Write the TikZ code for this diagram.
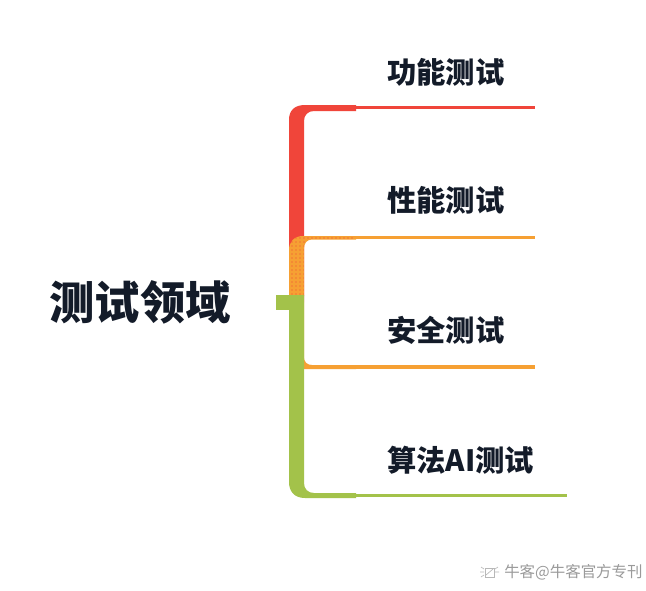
\documentclass[tikz,border=0pt]{standalone}
\usepackage{fontspec}
\newfontfamily\cjk{Noto Sans CJK SC}
\usetikzlibrary{patterns}
\definecolor{cred}{HTML}{F0453A}
\definecolor{corange}{HTML}{F6A033}
\definecolor{cgreen}{HTML}{A3C24A}
\definecolor{ctext}{HTML}{131B29}
\definecolor{cmark}{HTML}{9A9A9A}
\begin{document}
\begin{tikzpicture}[x=0.75pt,y=-0.75pt,
  rootlabel/.style={font=\cjk\bfseries\fontsize{34}{40}\selectfont,text=ctext,inner sep=0pt},
  leaflabel/.style={font=\cjk\bfseries\fontsize{22}{26}\selectfont,text=ctext,inner sep=0pt,anchor=west},
  markstyle/.style={font=\cjk\fontsize{11.6}{14}\selectfont,text=cmark,inner sep=0pt,anchor=west},
  thinline/.style={line width=2.4pt}]
\useasboundingbox[fill=white] (0,0) rectangle (646,590);

% branch 1 (red)
\fill[cred] (289,302) -- (289,120) .. controls (289,111) and (294,105) .. (305,105)
  -- (356,105) -- (356,111) -- (314,111) .. controls (308,111) and (304,115) .. (304,121) -- (304,302) -- cycle;
\coordinate (b1s) at (355,107.5);
\coordinate (b1e) at (535,107.5);
\draw[cred,thinline] (b1s) -- (b1e);

% branch 2 (orange, upper)
\path[fill=corange] (289,296) -- (289,250) .. controls (289,242) and (294,236) .. (303,236)
  -- (356,236) -- (356,239.5) -- (312,239.5) .. controls (307,239.5) and (304,243) .. (304,249) -- (304,296) -- cycle;
\path[pattern=dots,pattern color=cred] (289,296) -- (289,250) .. controls (289,242) and (294,236) .. (303,236)
  -- (356,236) -- (356,239.5) -- (312,239.5) .. controls (307,239.5) and (304,243) .. (304,249) -- (304,296) -- cycle;
\coordinate (b2s) at (355,237.5);
\coordinate (b2e) at (535,237.5);
\draw[corange,thinline] (b2s) -- (b2e);

% branch 3 (orange, lower) - mostly hidden by green
\fill[corange] (289,302) -- (289,355) .. controls (289,362) and (294,369) .. (303,369)
  -- (356,369) -- (356,365) -- (312,365) .. controls (307,365) and (304,362) .. (304,357) -- (304,302) -- cycle;
\coordinate (b3s) at (355,367);
\coordinate (b3e) at (535,367);
\draw[corange,thinline] (b3s) -- (b3e);

% branch 4 (green)
\fill[cgreen] (289,295) -- (289,482) .. controls (289,491) and (294,498) .. (305,498)
  -- (356,498) -- (356,493) -- (314,493) .. controls (308,493) and (304,489) .. (304,483) -- (304,295) -- cycle;
\coordinate (b4s) at (355,495.5);
\coordinate (b4e) at (567,495.5);
\draw[cgreen,thinline] (b4s) -- (b4e);

% root stub
\fill[cgreen] (276,295) rectangle (290,310);

% labels
\node[rootlabel] (root) at (140,302) {测试领域};
\node[leaflabel] (l1) at (387,72) {功能测试};
\node[leaflabel] (l2) at (387,200) {性能测试};
\node[leaflabel] (l3) at (387,330) {安全测试};
\node[leaflabel] (l4) at (387,460) {算法AI测试};

% watermark
\begin{scope}[draw=cmark!70,line width=0.5pt]
  \draw (485,568) rectangle (494,577);
  \draw (486,575) -- (493,569);
  \draw (481,567) -- (484,569) (480,572) -- (484,572) (481,577) -- (484,575);
  \draw (495,569) -- (498,567) (495,572) -- (499,572);
\end{scope}
\node[markstyle] (mark) at (504,572) {牛客@牛客官方专刊};
\end{tikzpicture}
\end{document}
